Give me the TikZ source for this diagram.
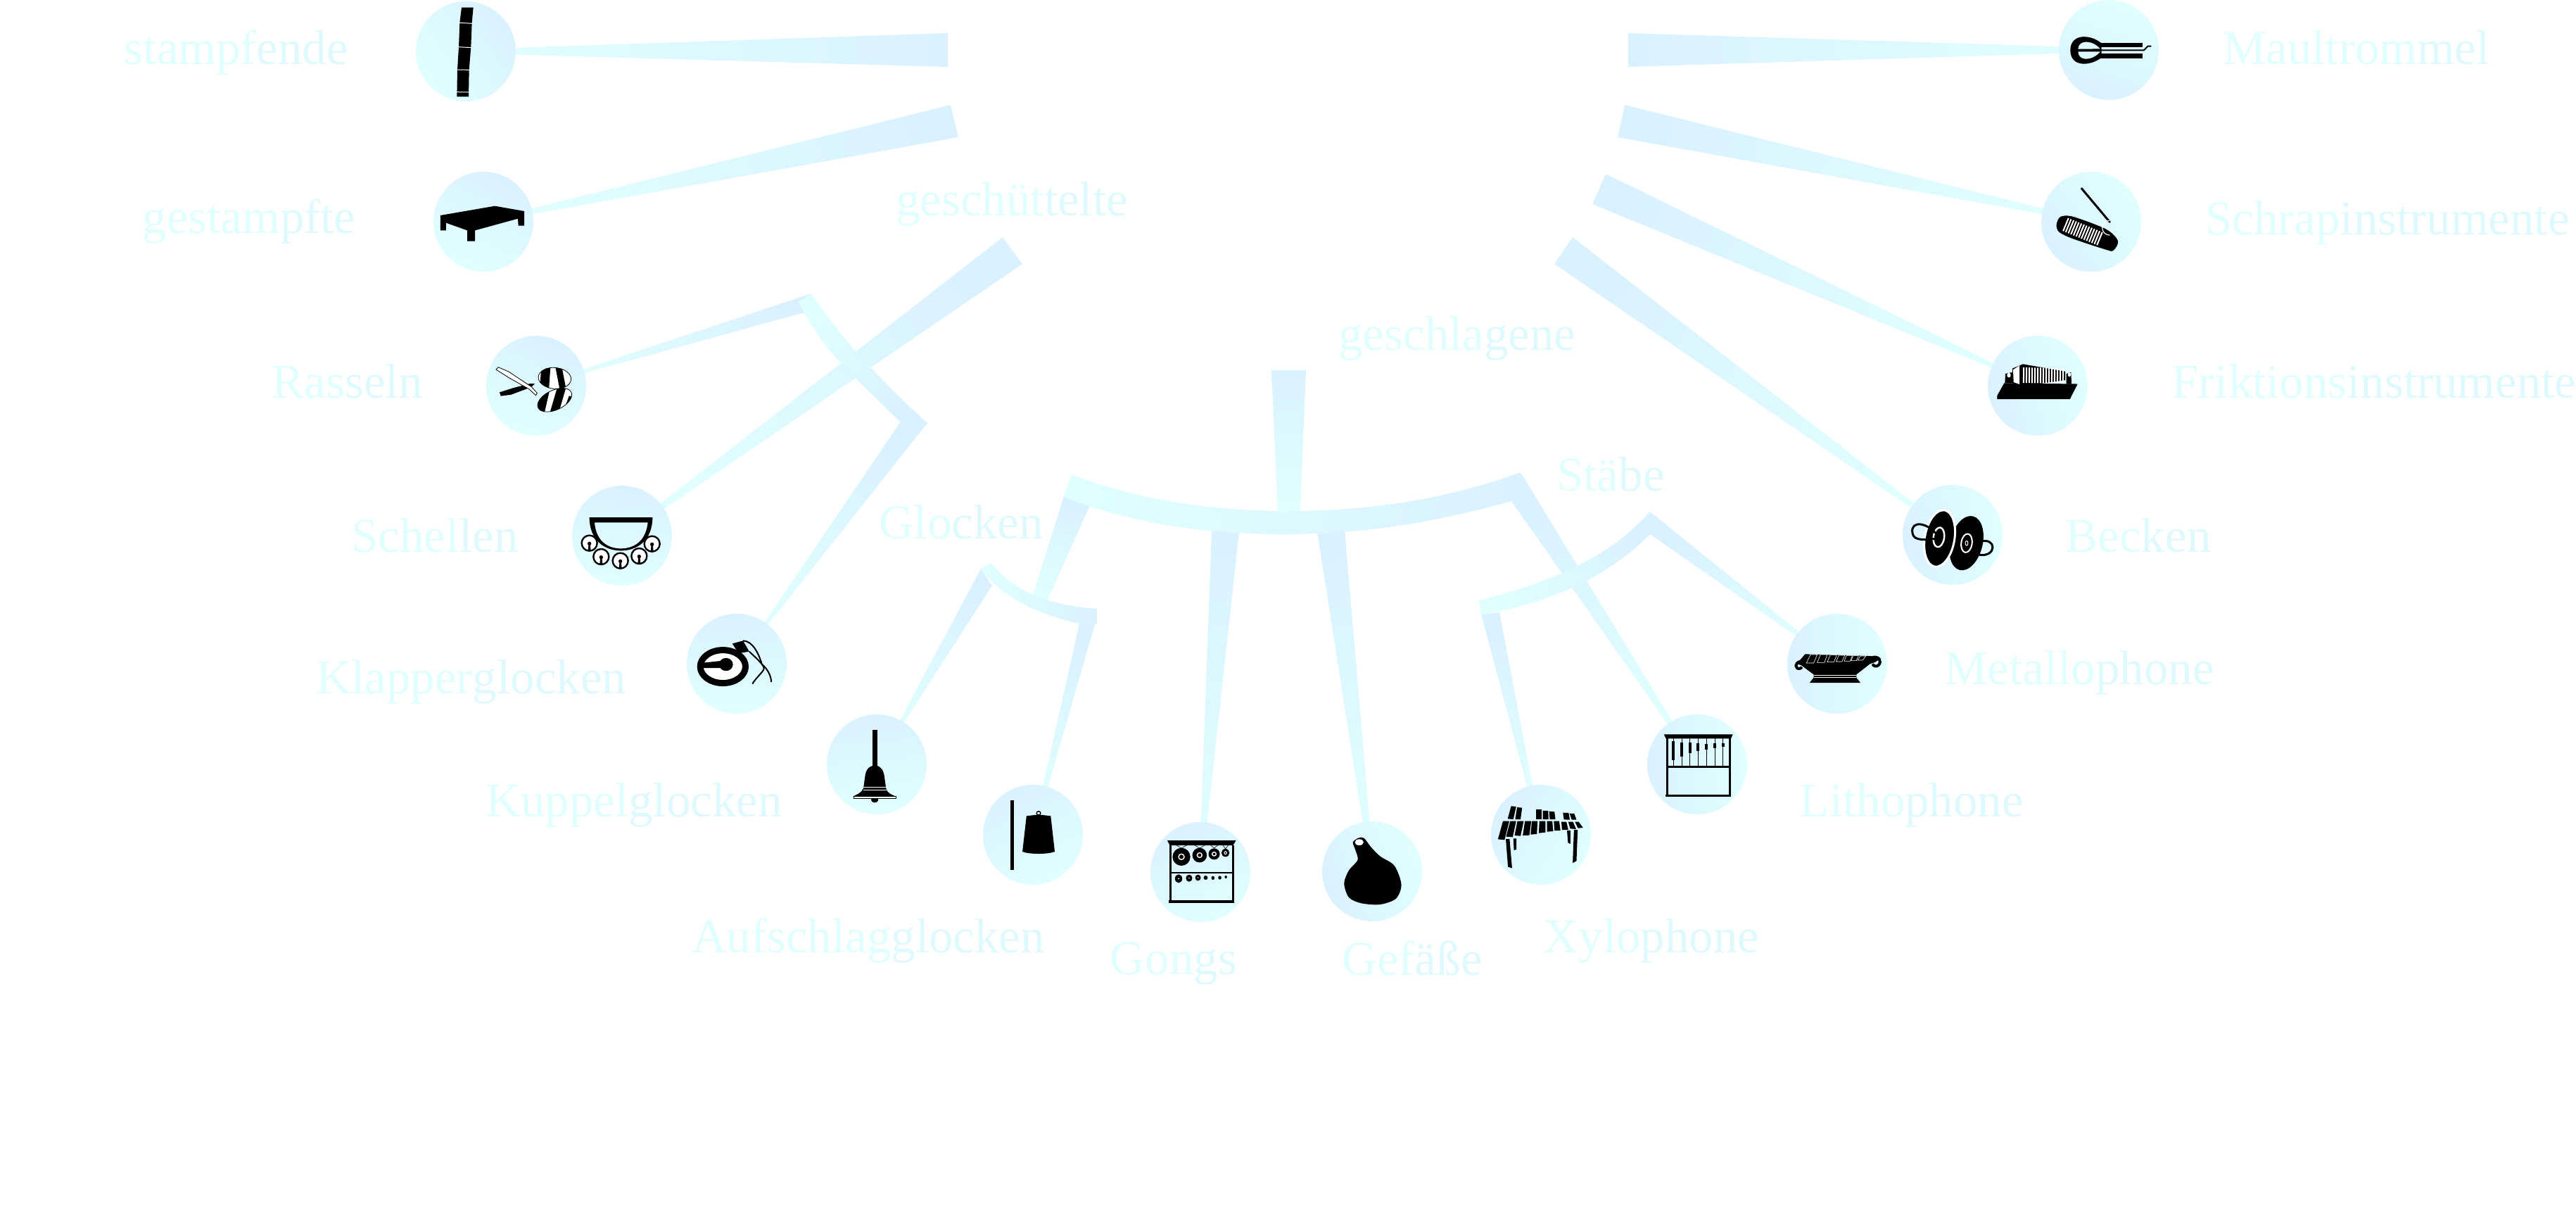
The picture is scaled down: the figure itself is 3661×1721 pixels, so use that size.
\documentclass[tikz,border=0pt]{standalone}
\usepackage{xcolor}
\usepackage{fontspec}
\setmainfont{Liberation Serif}
\usepackage{tikz}
\usetikzlibrary{calc}
\pgfdeclarelayer{bg}
\pgfsetlayers{bg,main}
\definecolor{lgt}{HTML}{E0FFFF}
\definecolor{drk}{HTML}{DAF2FF}
\colorlet{mid}{lgt!60!drk}
\tikzset{ramp/.style={top color=drk,bottom color=lgt},
ball/.style={ramp,circle,minimum size=71pt,inner sep=0pt},
lab/.style={font=\fontsize{34.5}{40}\selectfont,anchor=base,inner sep=0pt,text=lgt,yshift=-1pt},
gap/.style={draw=white,line width=.5pt},
ico/.style n args={4}{shift={(#1)},x=#2pt,y=-#3pt,shift={(#4)}}}
\newcommand{\wdg}[5]{\shade[ramp,shading angle=#1] ($(#2)-(#3)$) -- ($(#2)+(#3)$) -- ($(#4)+(#5)$) -- ($(#4)-(#5)$) -- cycle;}
\newcommand{\two}[2]{{\color{lgt}#1}{\color{mid}#2}}
\newcommand{\bel}[2]{\filldraw[fill=white,draw=black,line width=1.2pt] (#1,#2) circle (33);
   \fill (#1,#2+2) circle (8);
   \fill (#1-3,#2) -- (#1+3,#2) -- (#1+6,#2+33) -- (#1-6,#2+33) -- cycle;}
\begin{document}
\begin{tikzpicture}[x=.5pt,y=-.5pt]
   \useasboundingbox (0,0) rectangle (3661,1721);
   \node[ball,shading angle=-55] (stampf) at (662,73) {};
   \node[ball,shading angle=-25] (gest) at (687,315) {};
   \node[ball,shading angle=-20] (rass) at (762,548) {};
   \node[ball,shading angle=-5] (schell) at (884,761) {};
   \node[ball,shading angle=0] (klap) at (1047,943) {};
   \node[ball,shading angle=5] (kupp) at (1246,1086) {};
   \node[ball,shading angle=25] (auf) at (1468,1186) {};
   \node[ball,shading angle=25] (gong) at (1706,1239) {};
   \node[ball,shading angle=110] (gef) at (1950,1238) {};
   \node[ball,shading angle=55] (xylo) at (2190,1186) {};
   \node[ball,shading angle=90] (litho) at (2412,1086) {};
   \node[ball,shading angle=90] (metal) at (2611,943) {};
   \node[ball,shading angle=95] (beck) at (2775,760) {};
   \node[ball,shading angle=105] (frik) at (2896,548) {};
   \node[ball,shading angle=125] (schrap) at (2972,315) {};
   \node[ball,shading angle=160] (maul) at (2997,71) {};
   \coordinate (jStampf) at (1347,71);
   \coordinate (jGest) at (1356.5,172);
   \coordinate (jSchell) at (1439,356);
   \coordinate (jRass) at (1148,430.5);
   \coordinate (jKlap) at (1299,600);
   \coordinate (jKupp) at (1402,820);
   \coordinate (jAuf) at (1545,886.5);
   \coordinate (jGlock) at (1530.5,711.5);
   \coordinate (jSub) at (1475,859);
   \coordinate (jGong) at (1741.5,754.5);
   \coordinate (jGef) at (1891.5,754.5);
   \coordinate (jXylo) at (2118,871.5);
   \coordinate (jLitho) at (2154.5,691.5);
   \coordinate (jMetal) at (2345,743);
   \coordinate (jBeck) at (2222,356);
   \coordinate (jFrik) at (2272.5,268.5);
   \coordinate (jSchrap) at (2304,172);
   \coordinate (jMaul) at (2314,71);
   \begin{pgfonlayer}{bg}
   \wdg{-90}{jStampf}{0,24}{stampf}{0,2.8}
   \wdg{-78}{jGest}{5.5,23}{gest}{.4,1.7}
   \wdg{-54}{jSchell}{14,19}{schell}{1.4,1.9}
   \wdg{-36}{jKlap}{19,1}{klap}{1,-.6}
   \wdg{-73}{jRass}{-5,13.5}{rass}{-.3,1}
   \shade[ramp,shading angle=-138] (1153,417) .. controls (1182,462) and (1234,525) .. (1318,601) -- (1280,600) .. controls (1215,536) and (1170,500) .. (1135,429) -- cycle;
   \wdg{-30}{jKupp}{8,12}{kupp}{.2,.2}
   \wdg{-14}{jAuf}{11,.5}{auf}{1.6,0}
   \wdg{-20}{jGlock}{18.5,6.5}{jSub}{13,-5}
   \shade[ramp,shading angle=-90] (1409,800) .. controls (1440,840) and (1490,860) .. (1559,865) -- (1559,887) -- (1534,886) .. controls (1480,875) and (1425,850) .. (1394,808) -- cycle;
   \wdg{-4}{jGong}{19.5,1.5}{gong}{1.9,0}
   \wdg{7}{jGef}{19.5,-1.5}{gef}{2.5,0}
   \wdg{13}{jXylo}{13,-1.5}{xylo}{1.4,0}
   \wdg{33}{jLitho}{-6.5,20.5}{litho}{-1.3,.8}
   \wdg{53}{jMetal}{0,16}{metal}{-.6,.8}
   \shade[ramp,shading angle=-60] (2102,853) .. controls (2190,830) and (2280,800) .. (2345,727) -- (2345,759) .. controls (2280,825) and (2190,860) .. (2105,873) -- cycle;
   \shade[ramp,shading angle=-90] (1523,674) .. controls (1620,712) and (1730,726) .. (1832,726) .. controls (1950,726) and (2060,708) .. (2161,671) -- (2148,712) .. controls (2030,745) and (1930,759) .. (1824,759) .. controls (1720,759) and (1610,745) .. (1512,706) -- cycle;
   \shade[ramp] (1807,526) -- (1856,526) -- (1848,725) -- (1816,729) -- cycle;
   \wdg{54}{jBeck}{-13,19}{beck}{-.9,1.3}
   \wdg{66}{jFrik}{-9.5,21.5}{frik}{-.5,1.2}
   \wdg{78}{jSchrap}{-5,23}{schrap}{-.4,1.7}
   \wdg{90}{jMaul}{0,24}{maul}{0,2.8}
   \end{pgfonlayer}
   \node[lab] (lStampf) at (336,89) {\two{stampf}{ende}};
   \node[lab] (lGest) at (354,329) {\two{gestam}{pfte}};
   \node[lab] (lGesch) at (1438,304) {\two{geschüt}{telte}};
   \node[lab] (lRass) at (494,563) {\two{Ras}{seln}};
   \node[lab] (lSchell) at (618,782) {\two{Schel}{len}};
   \node[lab] (lKlap) at (670,983) {\two{Klapper}{glocken}};
   \node[lab] (lKupp) at (901,1158) {\two{Kuppel}{glocken}};
   \node[lab] (lAuf) at (1234,1351) {\two{Aufschlag}{glocken}};
   \node[lab] (lGong) at (1668,1382) {\two{Gon}{gs}};
   \node[lab] (lGlock) at (1366,763) {\two{Glo}{cken}};
   \node[lab] (lGef) at (2007,1383) {\two{Gef}{äße}};
   \node[lab] (lXylo) at (2347,1351) {\two{Xylo}{phone}};
   \node[lab] (lLitho) at (2717,1158) {\two{Litho}{phone}};
   \node[lab] (lMetal) at (2955,970) {\two{Metallo}{phone}};
   \node[lab] (lBeck) at (3039,782) {\two{Bec}{ken}};
   \node[lab] (lStab) at (2289,695) {\two{Stä}{be}};
   \node[lab] (lSchlag) at (2071,495) {\two{geschla}{gene}};
   \node[lab] (lMaul) at (3349,89) {\two{Maultrom}{mel}};
   \node[lab] (lSchrap) at (3393,331) {\two{Schrap}{instrumente}};
   \node[lab] (lFrik) at (3374,563) {\two{Friktions}{instrumente}};
   \begin{scope}[ico={stampf}{.1667}{.1667}{-306,-219}]
      \fill (288,32) -- (338,32) -- (332,97) -- (328,200) -- (320,298) -- (318,412) -- (268,412) -- (270,298) -- (276,200) -- (280,97) -- cycle;
      \draw[gap] (278,97) -- (334,100);
      \draw[gap] (274,200) -- (330,203);
      \draw[gap] (268,297) -- (322,298);
      \draw[gap] (266,392) -- (320,393);
   \end{scope}
   \begin{scope}[ico={gest}{.1667}{.1667}{-381,-945}]
      \fill (198,918) -- (430,878) -- (555,900) -- (555,962) -- (530,962) -- (528,932) -- (345,982) -- (345,1028) -- (312,1028) -- (312,982) -- (222,950) -- (222,982) -- (198,982) -- cycle;
   \end{scope}
   \begin{scope}[ico={rass}{.1667}{.1667}{-246,-294}]
      \fill (90,322) -- (95,338) -- (140,332) -- (225,300) -- (240,285) -- (220,285) -- (150,303) -- cycle;
      \begin{scope}
         \clip[rotate around={-5:(325,262)}] (325,262) ellipse (70 and 45);
         \fill[white] (250,210) rectangle (400,320);
         \draw[line width=6.5pt] (288,205) -- (280,320);
         \draw[line width=4.5pt] (340,205) -- (362,320);
      \end{scope}
      \draw[line width=.4pt,rotate around={-5:(325,262)}] (325,262) ellipse (70 and 45);
      \begin{scope}
         \clip[rotate around={25:(325,355)}] (325,355) ellipse (78 and 42);
         \fill[white] (240,300) rectangle (410,420);
         \draw[line width=7pt] (285,300) -- (262,400);
         \draw[line width=6pt] (355,300) -- (320,420);
         \draw[line width=3pt] (395,340) -- (365,420);
      \end{scope}
      \draw[line width=.4pt,rotate around={25:(325,355)}] (325,355) ellipse (78 and 42);
      \filldraw[fill=white,draw=black,line width=.4pt] (75,225) -- (85,215) -- (130,235) -- (225,298) -- (250,325) -- (245,335) -- (215,308) -- (130,260) -- cycle;
   \end{scope}
   \begin{scope}[ico={schell}{.1667}{.1667}{-612,-933}]
      \fill[even odd rule] (473,855) -- (742,855) .. controls (742,950) and (680,997) .. (607,997) .. controls (535,997) and (473,950) .. (473,855) -- cycle (495,877) -- (722,877) .. controls (715,950) and (670,988) .. (607,988) .. controls (545,988) and (500,950) .. (495,877) -- cycle;
      \bel{473}{965}
      \bel{523}{1023}
      \bel{605}{1040}
      \bel{685}{1020}
      \bel{740}{968}
   \end{scope}
   \begin{scope}[ico={klap}{.4464}{.2551}{-725,-574}]
      \filldraw[fill=white,draw=black,line width=4.5pt] (703,582) ellipse (36 and 46);
      \fill (668,572) -- (700,566) -- (705,586) -- (668,586) -- cycle;
      \fill (708,576) ellipse (11 and 18);
      \fill (718,518) -- (735,510) -- (745,540) -- (728,545) -- cycle;
      \draw[line width=1pt] (735,510) .. controls (750,510) and (760,545) .. (765,575) .. controls (775,590) and (780,610) .. (780,625);
      \draw[line width=1pt] (745,540) .. controls (760,565) and (770,580) .. (768,590) .. controls (765,600) and (755,615) .. (750,630);
   \end{scope}
   \begin{scope}[ico={kupp}{.287}{.1667}{-167,-258}]
      \fill (157,110) rectangle (168,265);
      \fill (163,262) .. controls (145,265) and (140,285) .. (138,310) -- (134,360) .. controls (130,380) and (115,388) .. (108,395) -- (215,395) .. controls (205,388) and (192,380) .. (190,360) -- (186,310) .. controls (184,285) and (178,265) .. (163,262) -- cycle;
      \fill[white] (134,354) rectangle (190,358);
      \fill[white] (133,366) rectangle (191,370);
      \fill (162,409) ellipse (9 and 12);
      \filldraw[fill=white,draw=black,line width=.5pt] (110,393) rectangle (215,403);
   \end{scope}
   \begin{scope}[ico={auf}{.287}{.1667}{-554,-558}]
      \fill (498,412) rectangle (507,707);
      \filldraw[fill=lgt,draw=black,line width=.7pt] (568,466) ellipse (5 and 8);
      \fill (538,478) -- (568,472) -- (598,478) -- (608,630) .. controls (590,642) and (545,642) .. (528,630) -- cycle;
   \end{scope}
   \begin{scope}[ico={gong}{.287}{.1667}{-969,-717}]
      \fill (887,582) -- (1057,582) -- (1050,603) -- (893,603) -- cycle;
      \fill (893,603) rectangle (898,845);
      \fill (1047,603) rectangle (1052,845);
      \fill (895,716) rectangle (1050,722);
      \fill (890,838) rectangle (1053,848);
      \fill (922,652) ellipse (22 and 38);
      \draw[white,line width=.7pt] (922,652) ellipse (7 and 12);
      \fill (967,645) ellipse (18 and 31);
      \draw[white,line width=.7pt] (967,645) ellipse (6 and 10);
      \fill (1003,640) ellipse (14 and 24);
      \draw[white,line width=.7pt] (1003,640) ellipse (5 and 8);
      \fill (1031,635) ellipse (10 and 17);
      \draw[white,line width=.5pt] (1031,635) ellipse (3 and 6);
      \draw[line width=.3pt] (910,603) -- (922,615) -- (935,603) (955,603) -- (967,615) -- (980,603) (995,603) -- (1003,615) -- (1012,603) (1025,603) -- (1031,618) -- (1038,603);
      \fill (915,745) ellipse (9 and 18);
      \fill (941,743) ellipse (8 and 15);
      \fill (963,741) ellipse (7 and 13);
      \fill (982,741) ellipse (5 and 9);
      \fill (1000,742) ellipse (4 and 8);
      \fill (1017,741) ellipse (4 and 8);
      \fill (1032,738) ellipse (3 and 6);
      \fill[white] (915,745) circle (2.5);
      \fill[white] (941,743) circle (2);
      \fill[white] (963,741) circle (2);
   \end{scope}
   \begin{scope}[ico={gef}{.2232}{.1667}{-224,-714}]
      \fill plot[smooth cycle] coordinates {(163,590) (180,572) (198,572) (220,610) (250,650) (295,690) (317,770) (300,830) (250,855) (190,850) (150,825) (135,765) (150,710) (178,665) (170,620)};
      \fill[white] (183,590) ellipse (14 and 13);
   \end{scope}
   \begin{scope}[ico={xylo}{.2232}{.1667}{-762,-558}]
      \fill (641,500) -- (661,500) -- (646,580) -- (625,577) -- cycle;
      \fill (664,500) -- (683,500) -- (672,568) -- (651,566) -- cycle;
      \fill (687,500) -- (707,500) -- (697,563) -- (678,561) -- cycle;
      \fill (711,500) -- (731,500) -- (725,560) -- (704,561) -- cycle;
      \fill (733,500) -- (751,500) -- (749,555) -- (729,557) -- cycle;
      \fill (757,500) -- (776,500) -- (776,548) -- (755,551) -- cycle;
      \fill (781,500) -- (798,500) -- (801,543) -- (781,545) -- cycle;
      \fill (803,500) -- (820,500) -- (824,540) -- (805,540) -- cycle;
      \fill (827,503) -- (843,503) -- (849,537) -- (829,537) -- cycle;
      \fill (849,503) -- (864,503) -- (874,534) -- (855,532) -- cycle;
      \fill (870,503) -- (882,503) -- (896,528) -- (880,530) -- cycle;
      \fill (667,436) -- (683,438) -- (674,492) -- (656,490) -- cycle;
      \fill (686,441) -- (702,443) -- (697,492) -- (680,492) -- cycle;
      \fill (746,450) -- (764,450) -- (764,492) -- (746,492) -- cycle;
      \fill (768,455) -- (785,456) -- (786,492) -- (768,492) -- cycle;
      \fill (788,458) -- (805,460) -- (808,492) -- (790,492) -- cycle;
      \fill (832,464) -- (850,465) -- (854,494) -- (835,493) -- cycle;
      \fill (853,467) -- (868,468) -- (875,494) -- (860,494) -- cycle;
      \fill (650,576) -- (662,576) -- (670,700) -- (657,695) -- cycle;
      \fill (674,574) -- (684,574) -- (684,620) -- (676,625) -- cycle;
      \fill (845,541) -- (856,539) -- (856,597) -- (848,592) -- cycle;
      \fill (867,537) -- (879,537) -- (875,670) -- (863,678) -- cycle;
   \end{scope}
   \begin{scope}[ico={litho}{.1918}{.1667}{-240,-1308}]
      \fill (117,1180) -- (372,1180) -- (365,1198) -- (124,1198) -- cycle;
      \fill (125,1198) rectangle (133,1445);
      \fill (358,1198) rectangle (366,1445);
      \fill (125,1315) rectangle (366,1322);
      \fill (123,1436) rectangle (366,1445);
      \draw[line width=.4pt] (152,1198) -- (152,1315) (183,1198) -- (183,1315) (213,1198) -- (213,1315) (243,1198) -- (243,1315) (274,1198) -- (274,1315) (305,1198) -- (305,1315) (336,1198) -- (336,1315);
      \fill (147,1210) rectangle (157,1290);
      \fill (177,1215) rectangle (188,1275);
      \fill (208,1215) rectangle (218,1260);
      \fill (238,1218) rectangle (249,1250);
      \fill (269,1222) rectangle (279,1245);
      \fill (300,1218) rectangle (310,1240);
      \fill (331,1218) rectangle (341,1232);
   \end{scope}
   \begin{scope}[ico={metal}{.1918}{.1667}{-759,-879}]
      \fill (640,838) -- (860,845) -- (905,848) -- (915,860) -- (900,872) -- (880,880) -- (830,925) -- (830,938) -- (845,960) -- (657,960) -- (672,938) -- (672,925) -- (625,885) -- (610,880) -- (620,865) -- cycle;
      \draw[line width=2pt] (640,868) .. controls (610,865) and (600,885) .. (610,897) .. controls (615,903) and (625,900) .. (628,893);
      \draw[line width=2pt] (890,852) .. controls (915,845) and (925,870) .. (912,885) .. controls (905,893) and (893,890) .. (890,880);
      \fill[white] (672,926) rectangle (828,930);
      \fill[white] (672,935) rectangle (828,937);
      \draw[white,line width=.3pt] (645,876) -- (672,876) -- (685,840) -- (660,840) -- cycle;
      \draw[white,line width=.3pt] (685,874) -- (712,874) -- (722,840) -- (697,840) -- cycle;
      \draw[white,line width=.3pt] (722,872) -- (747,872) -- (757,842) -- (733,842) -- cycle;
      \draw[white,line width=.3pt] (755,870) -- (777,870) -- (787,843) -- (765,843) -- cycle;
      \draw[white,line width=.3pt] (785,868) -- (807,868) -- (815,844) -- (793,844) -- cycle;
      \draw[white,line width=.3pt] (810,866) -- (830,866) -- (838,845) -- (818,845) -- cycle;
      \draw[white,line width=.3pt] (835,864) -- (853,864) -- (865,846) -- (845,846) -- cycle;
   \end{scope}
   \begin{scope}[ico={beck}{.1918}{.1667}{-1186,-330}]
      \fill[rotate around={-14:(1237,365)}] (1237,365) ellipse (60 and 118);
      \draw[white,line width=1pt,rotate around={-8:(1238,365)}] (1238,365) ellipse (20 and 40);
      \draw[white,line width=.5pt] (1238,365) ellipse (5 and 10);
      \draw[line width=1.5pt] (1290,358) .. controls (1350,340) and (1350,425) .. (1285,415);
      \filldraw[fill=black,draw=white,line width=1.5pt,rotate around={-10:(1138,345)}] (1138,345) ellipse (55 and 122);
      \draw[white,line width=1.2pt,rotate around={-8:(1135,340)}] (1135,340) ellipse (20 and 42);
      \draw[line width=1.5pt] (1135,338) .. controls (1090,270) and (1030,270) .. (1037,320) .. controls (1040,360) and (1090,350) .. (1135,345);
   \end{scope}
   \begin{scope}[ico={frik}{.1667}{.2073}{-348,-1321}]
      \fill (175,1355) -- (205,1312) -- (518,1315) -- (485,1367) -- (175,1367) -- cycle;
      \fill (208,1312) -- (210,1280) -- (240,1275) -- (240,1312) -- cycle;
      \fill (470,1315) -- (470,1280) -- (490,1275) -- (492,1315) -- cycle;
      \fill (240,1262) -- (285,1247) -- (465,1272) -- (465,1302) -- (285,1322) -- (240,1312) -- cycle;
      \draw[white,line width=11pt,dash pattern=on 1pt off 1pt] (285,1285) -- (460,1287);
      \fill[white] (243,1266) -- (270,1252) -- (270,1316) -- (245,1309) -- cycle;
      \fill[white] (225,1285) circle (8);
      \fill[white] (483,1283) circle (7);
   \end{scope}
   \begin{scope}[ico={schrap}{.1667}{.2073}{-576,-759}]
      \draw[line width=1.5pt,line cap=round] (535,645) -- (655,760);
      \fill plot[smooth cycle] coordinates {(445,742) (500,742) (640,785) (690,825) (670,858) (640,855) (500,818) (440,795) (428,770)};
      \draw[white,line width=10pt,dash pattern=on 1pt off 1pt] (465,768) -- (615,818);
      \draw[white,line width=.6pt] (655,805) arc (90:270:32 and 25);
   \end{scope}
   \begin{scope}[ico={maul}{.1667}{.2073}{-651,-171}]
      \fill[even odd rule] (620,148) .. controls (570,115) and (487,115) .. (487,172) .. controls (487,230) and (570,228) .. (620,197) -- cycle (615,167) .. controls (580,135) and (520,135) .. (520,168) -- cycle (615,177) -- (520,177) .. controls (520,210) and (580,210) .. (615,177) -- cycle;
      \fill (615,147) rectangle (795,162);
      \fill (615,183) rectangle (795,199);
      \draw[line width=1pt] (520,172) -- (800,172) -- (818,158) -- (832,158);
   \end{scope}
\end{tikzpicture}
\end{document}
